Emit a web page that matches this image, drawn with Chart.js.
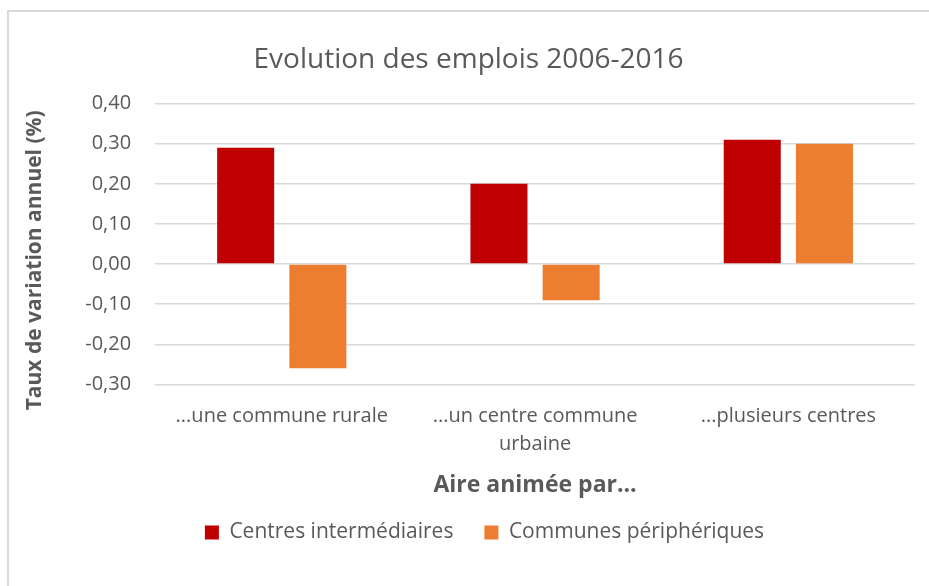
<!DOCTYPE html>
<html lang="fr">
<head>
<meta charset="UTF-8">
<title>Evolution des emplois 2006-2016</title>
<script src="https://cdn.jsdelivr.net/npm/chart.js"></script>
<style>
  html, body { margin: 0; padding: 0; background: #fff; overflow: hidden; }
  #frame { position: absolute; left: 7px; top: 10px; width: 1000px; height: 1000px; border: 2px solid #d9d9d9; }
  #wrap { position: absolute; left: 0; top: 0; width: 929px; height: 586px; }
</style>
</head>
<body>
<div id="frame"></div>
<div id="wrap"><canvas id="chart"></canvas></div>
<script>
  // données
  const categories = [
    "...une commune rurale",
    ["...un centre commune", "urbaine"],
    "...plusieurs centres"
  ];
  const centresIntermediaires = [0.29, 0.20, 0.31];
  const communesPeripheriques = [-0.26, -0.09, 0.30];
  const yTicks = [-0.3, -0.2, -0.1, 0, 0.1, 0.2, 0.3, 0.4];

  const textColor = "#595959";
  const fontFamily = "'Open Sans', sans-serif";

  // la légende d'Excel est un peu décalée vers la droite
  const legendShift = {
    id: "legendShift",
    afterLayout(chart) {
      chart.legend.left += 16;
      chart.legend.right += 16;
    }
  };

  const ctx = document.getElementById("chart").getContext("2d");
  new Chart(ctx, {
    type: "bar",
    data: {
      labels: categories,
      datasets: [
        {
          label: "Centres intermédiaires",
          data: centresIntermediaires,
          backgroundColor: "#C00000"
        },
        {
          label: "Communes périphériques",
          data: communesPeripheriques,
          backgroundColor: "#ED7D31"
        }
      ]
    },
    plugins: [legendShift],
    options: {
      responsive: true,
      maintainAspectRatio: false,
      animation: false,
      categoryPercentage: 0.57,
      barPercentage: 0.79,
      layout: { padding: { top: 43, left: 22, right: 14, bottom: 33 } },
      plugins: {
        title: {
          display: true,
          text: "Evolution des emplois 2006-2016",
          color: textColor,
          font: { family: fontFamily, size: 28, weight: "normal" },
          padding: { top: 0, bottom: 27 }
        },
        legend: {
          position: "bottom",
          labels: {
            color: textColor,
            font: { family: fontFamily, size: 21 },
            boxWidth: 14,
            boxHeight: 14,
            padding: 31
          }
        },
        tooltip: { enabled: false }
      },
      scales: {
        x: {
          grid: { display: false },
          border: { display: false },
          ticks: {
            color: textColor,
            font: { family: fontFamily, size: 20, lineHeight: 1.4 },
            maxRotation: 0,
            padding: 10
          },
          title: {
            display: true,
            text: "Aire animée par...",
            color: textColor,
            font: { family: fontFamily, size: 23, weight: "bold" },
            padding: { top: 3, bottom: -8 }
          }
        },
        y: {
          min: -0.3,
          max: 0.4,
          afterBuildTicks: (axis) => {
            axis.ticks = yTicks.map((v) => ({ value: v }));
          },
          grid: { color: "#d9d9d9", lineWidth: 1.5, drawTicks: false },
          border: { display: false },
          ticks: {
            color: textColor,
            font: { family: fontFamily, size: 20 },
            padding: 24,
            callback: (v) => v.toFixed(2).replace(".", ",")
          },
          title: {
            display: true,
            text: "Taux de variation annuel (%)\u00a0\u00a0\u00a0\u00a0\u00a0\u00a0",
            color: textColor,
            font: { family: fontFamily, size: 21, weight: "bold" },
            padding: { top: 0, bottom: 14 }
          }
        }
      }
    }
  });
</script>
</body>
</html>
